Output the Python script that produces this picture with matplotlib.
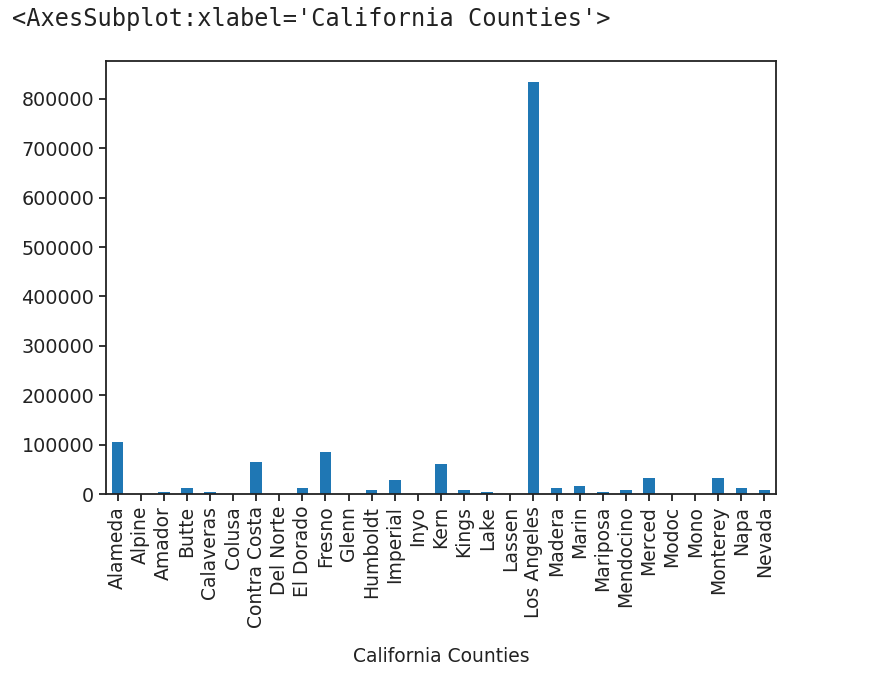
import matplotlib
matplotlib.use("Agg")
import matplotlib.pyplot as plt
import numpy as np

counties = [
    "Alameda", "Alpine", "Amador", "Butte", "Calaveras", "Colusa",
    "Contra Costa", "Del Norte", "El Dorado", "Fresno", "Glenn", "Humboldt",
    "Imperial", "Inyo", "Kern", "Kings", "Lake", "Lassen", "Los Angeles",
    "Madera", "Marin", "Mariposa", "Mendocino", "Merced", "Modoc", "Mono",
    "Monterey", "Napa", "Nevada",
]
values = [
    105000, 300, 4600, 12000, 4600, 300,
    65000, 300, 12000, 84500, 300, 8000,
    28000, 300, 61000, 8000, 4600, 300, 835000,
    12000, 16000, 4600, 8000, 32000, 300, 300,
    32000, 12000, 8000,
]
yticks = [0, 100000, 200000, 300000, 400000, 500000, 600000, 700000, 800000]

W, H = 886, 690
fig = plt.figure(figsize=(W / 100, H / 100), dpi=100)
fig.patch.set_facecolor("white")

# строка вывода Jupyter над графиком
fig.text(12 / W, 1 - 19 / H, "<AxesSubplot:xlabel='California Counties'>",
         family="DejaVu Sans Mono", fontsize=17, va="center", ha="left",
         color="#222222")

ax = fig.add_axes([106 / W, 1 - 494 / H, 670 / W, 433 / H])
x = np.arange(len(counties))
ax.bar(x, values, width=0.5, color="#1f77b4")
ax.set_xlim(-0.5, len(counties) - 0.5)
ax.set_ylim(0, max(values) * 1.05)
ax.set_yticks(yticks)
ax.set_yticklabels([str(v) for v in yticks], fontsize=13.8, color="#222222")
ax.set_xticks(x)
ax.set_xticklabels(counties, rotation=90, fontsize=13.5, color="#222222")
ax.set_xlabel("California Counties", fontsize=13.5, labelpad=14, color="#222222")
for s in ax.spines.values():
    s.set_linewidth(1.3)
    s.set_color("#222222")
ax.tick_params(width=1.3, length=5, color="#222222")

fig.savefig("out.png", dpi=100)
